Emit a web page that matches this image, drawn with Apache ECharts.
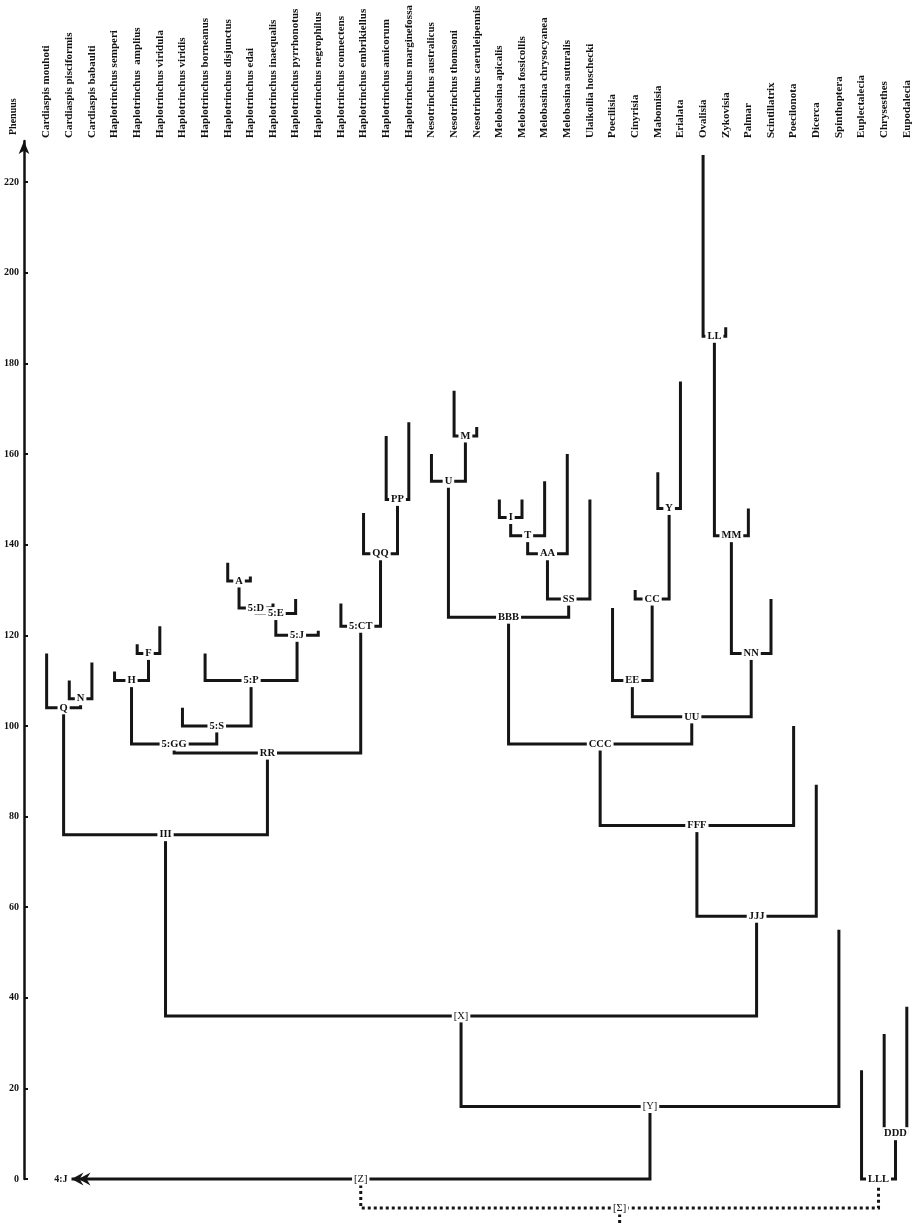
<!DOCTYPE html>
<html>
<head>
<meta charset="utf-8">
<script src="https://cdn.jsdelivr.net/npm/echarts@6/dist/echarts.min.js"></script>
<style>
  html, body { margin: 0; padding: 0; background: #fff; }
  #chart { width: 917px; height: 1226px; }
</style>
</head>
<body>
<div id="chart"></div>
<script>
// leaves (left to right) and the height where each leaf line ends
const species = [
  'Cardiaspis mouhoti', 'Cardiaspis pisciformis', 'Cardiaspis babaulti',
  'Haplotrinchus semperi', 'Haplotrinchus  amplius', 'Haplotrinchus viridula',
  'Haplotrinchus viridis', 'Haplotrinchus borneanus', 'Haplotrinchus disjunctus',
  'Haplotrinchus edai', 'Haplotrinchus inaequalis', 'Haplotrinchus pyrrhonotus',
  'Haplotrinchus negrophilus', 'Haplotrinchus connectens', 'Haplotrinchus embrikiellus',
  'Haplotrinchus amicorum', 'Haplotrinchus marginefossa', 'Nesotrinchus australicus',
  'Nesotrinchus thomsoni', 'Nesotrinchus caeruleipennis', 'Melobasina apicalis',
  'Melobasina fossicollis', 'Melobasina chrysocyanea', 'Melobasina suturalis',
  'Ulaikoilia hoschecki', 'Poecilisia', 'Cinyrisia', 'Mabomisia', 'Erialata',
  'Ovalisia', 'Zykovisia', 'Palmar', 'Scintillatrix', 'Poecilonota', 'Dicerca',
  'Spinthoptera', 'Euplectalecia', 'Chrysesthes', 'Eupodalecia'
];
const leafTop = [
  116, 110, 114, 112, 118, 122, 104, 116, 136, 133, 127, 128, 121,
  127, 147, 164, 167, 160, 174, 166, 150, 150, 154, 160, 150,
  126, 130, 156, 176, 226, 188, 148, 128, 100, 87, 55, 24, 32, 38
];

// internal nodes: children are leaf indexes (numbers) or node names
const nodeNames  = ['N', 'Q', 'F', 'H', 'A', '5:D', '5:E', '5:J', '5:P', '5:S', '5:GG',
                    'PP', 'QQ', '5:CT', 'RR', 'III', 'M', 'U', 'I', 'T', 'AA', 'SS', 'BBB',
                    'Y', 'CC', 'EE', 'LL', 'MM', 'NN', 'UU', 'CCC', 'FFF', 'JJJ',
                    '[X]', '[Y]', 'DDD', 'LLL'];
const nodeLeft   = [1, 0, 4, 3, 8, 'A', '5:D', '5:E', 7, 6, 'H',
                    15, 14, 13, '5:GG', 'Q', 18, 17, 20, 'I', 'T', 'AA', 'U',
                    27, 26, 25, 29, 'LL', 'MM', 'EE', 'BBB', 'CCC', 'FFF',
                    'III', '[X]', 37, 36];
const nodeRight  = [2, 'N', 5, 'F', 9, 10, 11, 12, '5:J', '5:P', '5:S',
                    16, 'PP', 'QQ', '5:CT', 'RR', 19, 'M', 21, 22, 23, 24, 'SS',
                    28, 'Y', 'CC', 30, 31, 32, 'NN', 'UU', 33, 34,
                    'JJJ', 35, 38, 'DDD'];
const nodeHeight = [106, 104, 116, 110, 132, 126, 124.8, 120, 110, 100, 96,
                    150, 138, 122, 94, 76, 164, 154, 146, 142, 138, 128, 124,
                    148, 128, 110, 186, 142, 116, 102, 96, 78, 58,
                    36, 16, 10, 0];

// outgroup arrow, [Z] and the dotted root
const outgroupName = '4:J';
const outgroupX = 1.1;
const zName = '[Z]';
const zRight = '[Y]';
const zHeight = 0;
const rootName = '[Σ]';
const rootLeft = '[Z]';
const rootRight = 'LLL';
const rootHeight = -6.4;
const rootStemEnd = -11;

const yTicks = [0, 20, 40, 60, 80, 100, 120, 140, 160, 180, 200, 220];

// ---- build brackets ----
const nodeX = {};
const nodeH = {};
function xOf(c) { return typeof c === 'number' ? c : nodeX[c]; }
function topOf(c) { return typeof c === 'number' ? leafTop[c] : nodeH[c]; }

const solid = [];
const labels = [];
nodeNames.forEach((name, i) => {
  const l = nodeLeft[i], r = nodeRight[i], h = nodeHeight[i];
  const xl = xOf(l), xr = xOf(r);
  nodeX[name] = (xl + xr) / 2;
  nodeH[name] = h;
  solid.push([xl, topOf(l), xr, topOf(r), h]);
  labels.push([nodeX[name], h, name, name.startsWith('[') ? 'normal' : 'bold']);
});
nodeX[zName] = (outgroupX + nodeX[zRight]) / 2;
nodeH[zName] = zHeight;
solid.push([outgroupX, zHeight, nodeX[zRight], nodeH[zRight], zHeight]);
labels.push([nodeX[zName], zHeight, zName, 'normal']);

const dotted = [];
const rootX = (nodeX[rootLeft] + nodeX[rootRight]) / 2;
dotted.push([nodeX[rootLeft], nodeH[rootLeft], nodeX[rootRight], nodeH[rootRight], rootHeight]);
dotted.push([rootX, rootHeight, rootX, rootStemEnd, rootHeight]);
labels.push([rootX, rootHeight, rootName, 'normal']);

function bracket(dash) {
  return function (params, api) {
    const xl = api.value(0), tl = api.value(1), xr = api.value(2), tr = api.value(3), h = api.value(4);
    const pts = [api.coord([xl, tl]), api.coord([xl, h]), api.coord([xr, h]), api.coord([xr, tr])];
    return {
      type: 'polyline',
      shape: { points: pts },
      style: { stroke: '#151515', lineWidth: 3, fill: null, lineDash: dash, lineCap: 'butt' }
    };
  };
}

const chart = echarts.init(document.getElementById('chart'));

const option = {
  animation: false,
  backgroundColor: '#fff',
  grid: { left: 24, width: 893, top: 141, bottom: 47, outerBoundsMode: 'none' },
  xAxis: {
    type: 'value',
    position: 'top',
    min: -1,
    max: 38.45,
    axisLine: { show: false },
    axisTick: { show: false },
    splitLine: { show: false },
    axisLabel: {
      customValues: species.map((s, i) => i),
      formatter: (v) => species[Math.round(v)] || '',
      rotate: 90,
      margin: 3,
      color: '#111',
      fontFamily: 'Liberation Serif',
      fontWeight: 'bold',
      fontSize: 11
    }
  },
  yAxis: {
    type: 'value',
    min: 0,
    max: 229.1,
    name: 'Phenuus',
    nameLocation: 'end',
    nameRotate: 90,
    nameGap: 6,
    nameTextStyle: {
      color: '#111', fontFamily: 'Liberation Serif', fontWeight: 'bold', fontSize: 10,
      align: 'left', verticalAlign: 'bottom', padding: [0, 0, 6, 0]
    },
    axisLine: {
      show: true,
      onZero: false,
      symbol: ['none', 'arrow'],
      symbolSize: [8, 13],
      lineStyle: { color: '#111', width: 2.5 }
    },
    axisTick: { show: true, inside: true, length: 4, customValues: yTicks, lineStyle: { color: '#111', width: 2 } },
    axisLabel: {
      customValues: yTicks,
      margin: 5,
      color: '#111',
      fontFamily: 'Liberation Serif',
      fontWeight: 'bold',
      fontSize: 10
    },
    splitLine: { show: false }
  },
  series: [
    {
      type: 'custom',
      name: 'tree',
      renderItem: bracket(null),
      data: solid,
      encode: { x: [0, 2], y: [1, 3, 4] },
      silent: true,
      z: 2
    },
    {
      type: 'custom',
      name: 'root',
      renderItem: bracket([3, 3]),
      data: dotted,
      encode: { x: [0, 2], y: [1, 3, 4] },
      silent: true,
      z: 2
    },
    {
      type: 'custom',
      name: 'outgroup',
      data: [[outgroupX, zHeight]],
      encode: { x: 0, y: 1 },
      silent: true,
      z: 3,
      renderItem: (params, api) => {
        const p = api.coord([api.value(0), api.value(1)]);
        const head = (dx) => ({
          type: 'polygon',
          shape: { points: [[p[0] + dx, p[1]], [p[0] + dx + 12, p[1] - 6.5], [p[0] + dx + 8, p[1]], [p[0] + dx + 12, p[1] + 6.5]] },
          style: { fill: '#151515' }
        });
        return {
          type: 'group',
          children: [
            head(0), head(7),
            {
              type: 'text', x: p[0] - 4, y: p[1],
              style: { text: outgroupName, fill: '#111', font: 'bold 10px "Liberation Serif"', align: 'right', verticalAlign: 'middle' }
            }
          ]
        };
      }
    },
    {
      type: 'custom',
      name: 'labels',
      data: labels.map((d) => [d[0], d[1]]),
      encode: { x: 0, y: 1 },
      silent: true,
      z: 5,
      renderItem: (params, api) => {
        const p = api.coord([api.value(0), api.value(1)]);
        const d = labels[params.dataIndex];
        return {
          type: 'text', x: p[0], y: p[1],
          style: {
            text: d[2], fill: '#111',
            font: d[3] + ' 10.5px "Liberation Serif"',
            align: 'center', verticalAlign: 'middle',
            backgroundColor: '#fff', padding: [1, 2]
          }
        };
      }
    }
  ]
};

chart.setOption(option);
</script>
</body>
</html>
